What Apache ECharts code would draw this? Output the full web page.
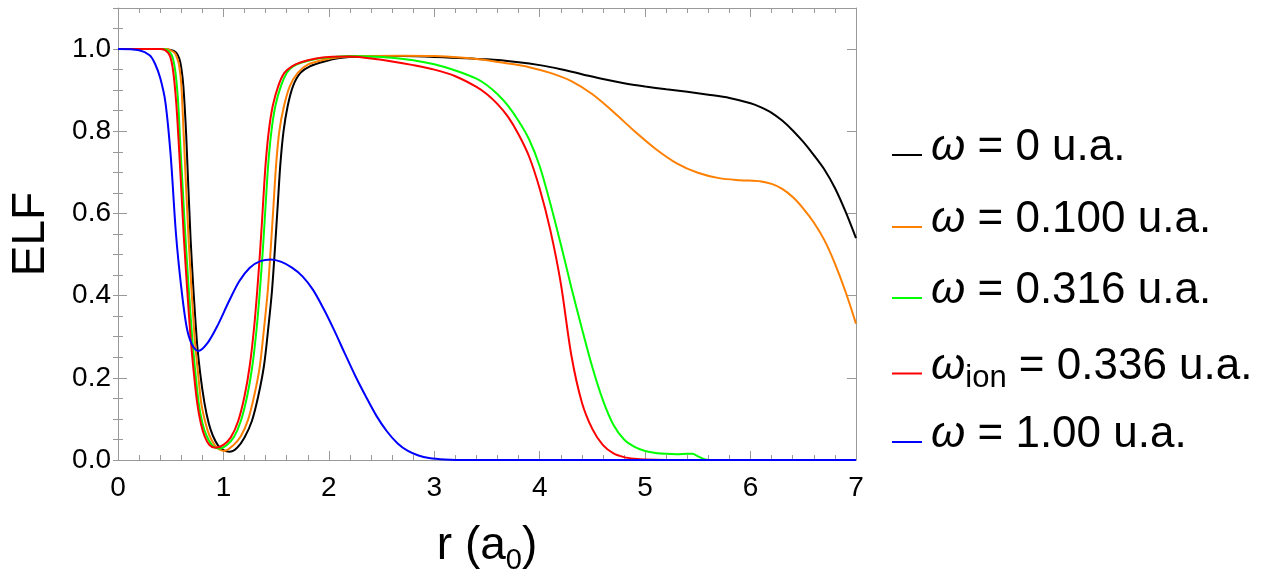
<!DOCTYPE html>
<html>
<head>
<meta charset="utf-8">
<title>ELF</title>
<script src="https://cdn.jsdelivr.net/npm/echarts@6/dist/echarts.min.js"></script>
<style>
  html, body { margin: 0; padding: 0; background: #fff; }
  #main { width: 1269px; height: 580px; }
</style>
</head>
<body>
<div id="main"></div>
<script>
// series names / legend text
var seriesNames = ['w0', 'w0100', 'w0316', 'wion', 'w100'];
var legendLabels = [
  '{w|ω} = 0 u.a.',
  '{w|ω} = 0.100 u.a.',
  '{w|ω} = 0.316 u.a.',
  '{w|ω}{s|ion} = 0.336 u.a.',
  '{w|ω} = 1.00 u.a.'
];
var colors = ['#000000', '#ff7f00', '#00ff00', '#ff0000', '#0000ff'];

// [r, ELF]
var elfW0 = [[0,1],[0.4,1],[0.5,0.998],[0.55,0.992],[0.58,0.978],[0.6,0.955],[0.62,0.91],[0.647,0.79],
  [0.688,0.54],[0.745,0.30],[0.78,0.21],[0.82,0.139],[0.86,0.09],[0.9,0.059],[0.95,0.035],[1.0,0.024],
  [1.057,0.020],[1.13,0.03],[1.2,0.055],[1.27,0.095],[1.33,0.155],[1.385,0.23],[1.425,0.32],[1.46,0.41],
  [1.49,0.52],[1.515,0.62],[1.54,0.72],[1.57,0.80],[1.61,0.862],[1.66,0.91],[1.73,0.942],[1.82,0.958],
  [1.957,0.970],[2.1,0.978],[2.3,0.982],[2.7,0.983],[3.0,0.981],[3.5,0.975],[3.8,0.968],[4.0,0.961],
  [4.2,0.951],[4.4,0.939],[4.6,0.927],[4.8,0.917],[5.0,0.909],[5.2,0.902],[5.4,0.896],[5.6,0.889],
  [5.8,0.881],[6.0,0.868],[6.1,0.858],[6.2,0.845],[6.3,0.826],[6.4,0.802],[6.5,0.774],[6.6,0.742],
  [6.7,0.707],[6.8,0.662],[6.9,0.605],[7.0,0.540]];
var elfW0100 = [[0,1],[0.45,1],[0.5,0.997],[0.54,0.99],[0.565,0.975],[0.58,0.96],[0.6,0.915],[0.625,0.781],
  [0.669,0.54],[0.726,0.30],[0.76,0.21],[0.789,0.139],[0.83,0.09],[0.868,0.059],[0.92,0.035],[0.96,0.026],
  [1.01,0.022],[1.09,0.035],[1.165,0.058],[1.235,0.099],[1.295,0.16],[1.345,0.228],[1.385,0.32],[1.42,0.41],
  [1.45,0.52],[1.475,0.62],[1.5,0.72],[1.53,0.80],[1.575,0.862],[1.63,0.91],[1.705,0.942],[1.8,0.962],
  [1.957,0.974],[2.1,0.98],[2.3,0.983],[2.7,0.984],[3.0,0.983],[3.4,0.976],[3.7,0.965],[3.9,0.956],
  [4.1,0.942],[4.3,0.922],[4.5,0.89],[4.7,0.847],[4.9,0.80],[5.1,0.757],[5.3,0.722],[5.5,0.699],
  [5.7,0.686],[5.9,0.681],[6.1,0.678],[6.2,0.672],[6.3,0.660],[6.4,0.640],[6.5,0.612],[6.6,0.578],
  [6.7,0.535],[6.8,0.478],[6.9,0.41],[7.0,0.332]];
var elfW0316 = [[0,1],[0.42,1],[0.47,0.997],[0.51,0.985],[0.535,0.96],[0.555,0.92],[0.573,0.86],[0.588,0.781],
  [0.614,0.66],[0.64,0.54],[0.67,0.42],[0.703,0.30],[0.735,0.21],[0.765,0.139],[0.8,0.09],[0.84,0.059],
  [0.9,0.034],[0.96,0.028],[1.03,0.036],[1.1,0.056],[1.165,0.095],[1.225,0.155],[1.275,0.23],[1.315,0.32],
  [1.345,0.41],[1.376,0.52],[1.4,0.62],[1.425,0.72],[1.455,0.80],[1.493,0.862],[1.545,0.91],[1.6,0.942],
  [1.66,0.958],[1.75,0.968],[1.9,0.977],[2.05,0.981],[2.2,0.983],[2.4,0.982],[2.6,0.979],[2.8,0.973],
  [3.0,0.963],[3.2,0.948],[3.4,0.928],[3.5,0.912],[3.6,0.890],[3.7,0.862],[3.8,0.825],[3.9,0.78],
  [4.0,0.715],[4.1,0.625],[4.2,0.525],[4.3,0.42],[4.4,0.32],[4.5,0.225],[4.6,0.145],[4.7,0.085],
  [4.8,0.05],[4.9,0.032],[5.0,0.022],[5.1,0.017],[5.2,0.015],[5.3,0.014],[5.4,0.015],[5.45,0.015],
  [5.5,0.009],[5.56,0.002],[5.6,0],[7,0]];
var elfWion = [[0,1],[0.4,1],[0.45,0.997],[0.49,0.985],[0.515,0.96],[0.535,0.92],[0.555,0.86],[0.574,0.781],
  [0.6,0.66],[0.625,0.54],[0.655,0.42],[0.688,0.30],[0.72,0.21],[0.751,0.139],[0.785,0.09],[0.82,0.059],
  [0.87,0.036],[0.925,0.030],[1.0,0.037],[1.07,0.055],[1.14,0.095],[1.2,0.155],[1.25,0.23],[1.29,0.32],
  [1.32,0.41],[1.351,0.52],[1.375,0.62],[1.4,0.72],[1.43,0.80],[1.468,0.862],[1.52,0.91],[1.578,0.942],
  [1.65,0.958],[1.736,0.968],[1.88,0.977],[2.0,0.981],[2.2,0.982],[2.4,0.977],[2.6,0.970],[2.8,0.961],
  [3.0,0.950],[3.2,0.934],[3.4,0.908],[3.5,0.890],[3.6,0.866],[3.7,0.835],[3.8,0.792],[3.9,0.738],
  [4.0,0.66],[4.1,0.56],[4.2,0.43],[4.3,0.255],[4.4,0.14],[4.5,0.075],[4.6,0.036],[4.7,0.016],
  [4.8,0.007],[4.9,0.003],[5.0,0.001],[5.2,0],[7,0]];
var elfW100 = [[0,1],[0.2,0.997],[0.3,0.985],[0.35,0.965],[0.4,0.93],[0.45,0.87],[0.5,0.74],[0.55,0.55],
  [0.6,0.42],[0.65,0.325],[0.7,0.282],[0.76,0.265],[0.85,0.285],[0.95,0.33],[1.05,0.385],[1.15,0.435],
  [1.25,0.468],[1.35,0.484],[1.45,0.488],[1.55,0.482],[1.65,0.468],[1.75,0.447],[1.85,0.414],[1.95,0.368],
  [2.05,0.316],[2.15,0.26],[2.25,0.205],[2.35,0.155],[2.45,0.108],[2.55,0.07],[2.65,0.041],[2.75,0.022],
  [2.85,0.011],[2.95,0.005],[3.1,0.0015],[3.3,0],[7,0]];
var allData = [elfW0, elfW0100, elfW0316, elfWion, elfW100];

var chart = echarts.init(document.getElementById('main'), null, { renderer: 'canvas' });
var font = 'Liberation Sans';
var gray = '#999';

var series = [];
for (var i = 0; i < seriesNames.length; i++) {
  series.push({
    name: seriesNames[i],
    type: 'line',
    data: allData[i],
    showSymbol: false,
    symbol: 'none',
    smooth: 0.3,
    lineStyle: { color: colors[i], width: 2 },
    itemStyle: { color: colors[i] }
  });
}

// one legend per item so each row sits where the picture has it
var legendTop = [118, 190, 261, 334, 405];
var legends = [];
for (var j = 0; j < seriesNames.length; j++) {
  legends.push({
    data: [seriesNames[j]],
    left: 887,
    top: legendTop[j],
    icon: 'rect',
    itemWidth: 30,
    itemHeight: 2,
    selectedMode: false,
    formatter: (function (k) { return function () { return legendLabels[k]; }; })(j),
    textStyle: {
      fontFamily: font, fontSize: 44, color: '#000', lineHeight: 50, padding: [0, 0, 14, 0],
      rich: {
        w: { fontFamily: font, fontSize: 44, lineHeight: 50, fontStyle: 'italic', color: '#000', padding: [0, 0, 0, 4] },
        s: { fontFamily: font, fontSize: 31, lineHeight: 26, color: '#000', padding: [24, 0, 0, 0] }
      }
    }
  });
}

var option = {
  animation: false,
  backgroundColor: '#fff',
  grid: { left: 117, right: 413, top: 8, bottom: 116, containLabel: false },
  legend: legends,
  xAxis: [{
    type: 'value', min: 0, max: 7, interval: 1, position: 'bottom',
    axisLine: { show: true, onZero: false, lineStyle: { color: gray, width: 1 } },
    axisTick: { show: true, inside: true, length: 9, lineStyle: { color: gray } },
    minorTick: { show: true, splitNumber: 5, length: 5, lineStyle: { color: gray } },
    splitLine: { show: false },
    axisLabel: { fontFamily: font, fontSize: 28, color: '#000', margin: 14 },
    name: 'r (a{s|0})',
    nameLocation: 'middle',
    nameGap: 58,
    nameTextStyle: {
      fontFamily: font, fontSize: 46, color: '#000',
      rich: { s: { fontFamily: font, fontSize: 29, color: '#000', padding: [28, 0, 0, 0] } }
    }
  }, {
    type: 'value', min: 0, max: 7, interval: 1, position: 'top',
    axisLine: { show: true, onZero: false, lineStyle: { color: gray, width: 1 } },
    axisTick: { show: true, inside: true, length: 9, lineStyle: { color: gray } },
    minorTick: { show: true, splitNumber: 5, length: 5, lineStyle: { color: gray } },
    splitLine: { show: false },
    axisLabel: { show: false }
  }],
  yAxis: [{
    type: 'value', min: 0, max: 1.1, interval: 0.2, position: 'left',
    axisLine: { show: true, onZero: false, lineStyle: { color: gray, width: 1 } },
    axisTick: { show: true, inside: true, length: 9, lineStyle: { color: gray } },
    splitLine: { show: false },
    axisLabel: {
      fontFamily: font, fontSize: 28, color: '#000', margin: 7, showMaxLabel: false,
      formatter: function (v) { return v.toFixed(1); }
    },
    name: 'ELF',
    nameLocation: 'middle',
    nameRotate: 90,
    nameGap: 64,
    nameTextStyle: { fontFamily: font, fontSize: 46, color: '#000' }
  }, {
    type: 'value', min: 0, max: 1.1, interval: 0.05, position: 'left',
    axisLine: { show: false },
    axisTick: { show: true, inside: true, length: 5, lineStyle: { color: gray } },
    splitLine: { show: false },
    axisLabel: { show: false }
  }, {
    type: 'value', min: 0, max: 1.1, interval: 0.2, position: 'right',
    axisLine: { show: true, onZero: false, lineStyle: { color: gray, width: 1 } },
    axisTick: { show: true, inside: true, length: 9, lineStyle: { color: gray } },
    splitLine: { show: false },
    axisLabel: { show: false }
  }, {
    type: 'value', min: 0, max: 1.1, interval: 0.05, position: 'right',
    axisLine: { show: false },
    axisTick: { show: true, inside: true, length: 5, lineStyle: { color: gray } },
    splitLine: { show: false },
    axisLabel: { show: false }
  }],
  series: series
};

chart.setOption(option);
</script>
</body>
</html>
